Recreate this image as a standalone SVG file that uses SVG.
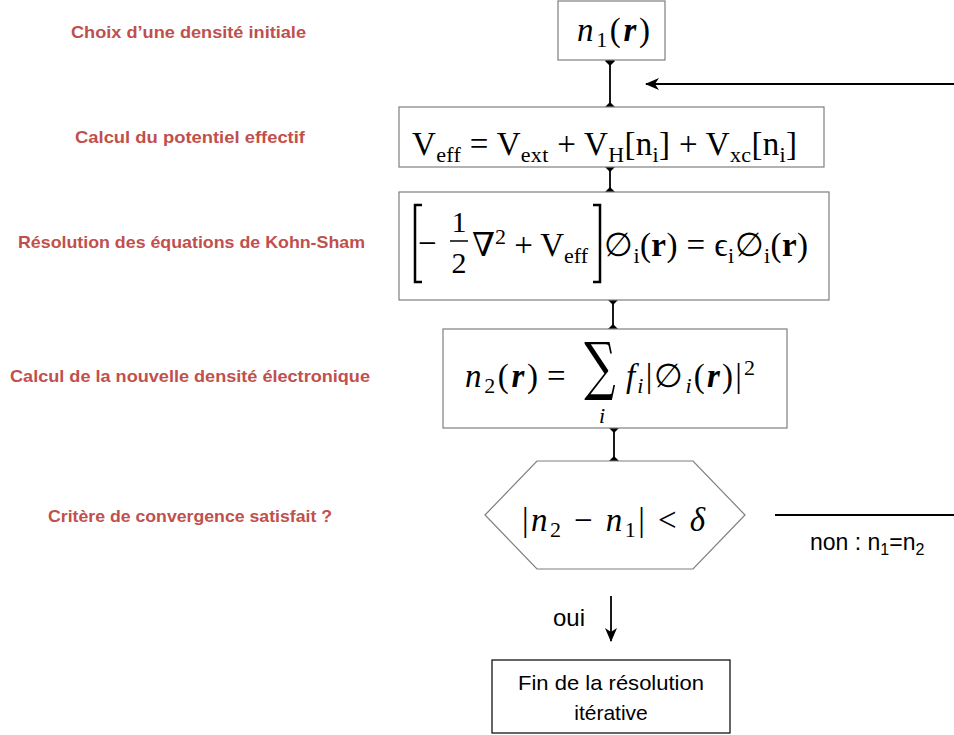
<svg xmlns="http://www.w3.org/2000/svg" width="954" height="735" viewBox="0 0 954 735">
<style>
.lbl{font-family:"Liberation Sans",Arial,sans-serif;font-weight:bold;font-size:17px;fill:#C0504D;text-anchor:middle}
.box{fill:#fff;stroke:#7f7f7f;stroke-width:1.2}
.m{font-family:"Liberation Serif","DejaVu Serif",serif;fill:#000;font-size:33px}
.i{font-style:italic}
.b{font-weight:bold}
.s{font-size:22px}
.t{font-family:"Liberation Sans",Arial,sans-serif;fill:#000}
.c{stroke:#000;stroke-width:1.8;fill:none}
</style>
<defs>
<marker id="dia" markerWidth="10" markerHeight="10" refX="5" refY="5" orient="auto" markerUnits="userSpaceOnUse">
<path d="M5,0 L10,5 L5,10 L0,5 Z" fill="#000"/>
</marker>
<marker id="arr" markerWidth="14" markerHeight="12" refX="13" refY="6" orient="auto" markerUnits="userSpaceOnUse">
<path d="M0,0 L14,6 L0,12 L4,6 Z" fill="#000"/>
</marker>
</defs>

<g id="labels">
<text class="lbl" x="188.5" y="38" textLength="235" lengthAdjust="spacingAndGlyphs">Choix d’une densité initiale</text>
<text class="lbl" x="190" y="143" textLength="230" lengthAdjust="spacingAndGlyphs">Calcul du potentiel effectif</text>
<text class="lbl" x="191.5" y="248" textLength="347" lengthAdjust="spacingAndGlyphs">Résolution des équations de Kohn-Sham</text>
<text class="lbl" x="190" y="382" textLength="360" lengthAdjust="spacingAndGlyphs">Calcul de la nouvelle densité électronique</text>
<text class="lbl" x="190" y="522" textLength="284" lengthAdjust="spacingAndGlyphs">Critère de convergence satisfait ?</text>
</g>

<g id="connectors">
<line class="c" x1="610" y1="61" x2="610" y2="107" marker-start="url(#dia)" marker-end="url(#dia)"/>
<line class="c" x1="610" y1="167" x2="610" y2="192" marker-start="url(#dia)" marker-end="url(#dia)"/>
<line class="c" x1="613" y1="300" x2="613" y2="329" marker-start="url(#dia)" marker-end="url(#dia)"/>
<line class="c" x1="614" y1="428" x2="614" y2="461" marker-start="url(#dia)" marker-end="url(#dia)"/>
<line class="c" x1="954" y1="84" x2="646" y2="84" marker-end="url(#arr)"/>
<line class="c" x1="775" y1="515" x2="954" y2="515"/>
<line class="c" x1="611" y1="596" x2="611" y2="641" marker-end="url(#arr)"/>
<text class="t" x="553" y="626" style="font-size:24px">oui</text>
<text class="t" x="810" y="550" style="font-size:23px">non : n<tspan style="font-size:16px" dy="5">1</tspan><tspan dy="-5">=n</tspan><tspan style="font-size:16px" dy="5">2</tspan></text>
</g>

<g id="n1">
<rect class="box" x="558" y="1" width="107" height="59" stroke="#595959"/>
<text class="m" x="577" y="41" textLength="73" lengthAdjust="spacing"><tspan class="i">n</tspan><tspan class="s" dy="6">1</tspan><tspan dy="-6">(</tspan><tspan class="i b">r</tspan>)</text>
</g>

<g id="veff">
<rect class="box" x="399" y="107" width="425" height="60"/>
<text class="m" x="412" y="155" textLength="385" lengthAdjust="spacing">V<tspan class="s" dy="7">eff</tspan><tspan dy="-7"> = V</tspan><tspan class="s" dy="7">ext</tspan><tspan dy="-7"> + V</tspan><tspan class="s" dy="7">H</tspan><tspan dy="-7">[n</tspan><tspan class="s" dy="7">i</tspan><tspan dy="-7">] + V</tspan><tspan class="s" dy="7">xc</tspan><tspan dy="-7">[n</tspan><tspan class="s" dy="7">i</tspan><tspan dy="-7">]</tspan></text>
</g>

<g id="ks">
<rect class="box" x="399" y="192" width="430" height="108"/>
<path d="M422,205 L415,205 L415,282 L422,282" fill="none" stroke="#000" stroke-width="2.5"/>
<path d="M593,205 L600,205 L600,282 L593,282" fill="none" stroke="#000" stroke-width="2.5"/>
<text class="m" x="418" y="254">−</text>
<text class="m" x="459" y="232" text-anchor="middle" style="font-size:30px">1</text>
<line x1="450" y1="241" x2="468" y2="241" stroke="#000" stroke-width="1.5"/>
<text class="m" x="459" y="273" text-anchor="middle" style="font-size:30px">2</text>
<text class="m" x="472" y="256" textLength="116" lengthAdjust="spacing">∇<tspan class="s" dy="-12">2</tspan><tspan dy="12"> + V</tspan><tspan class="s" dy="7">eff</tspan></text>
<text class="m" x="604" y="256" textLength="204" lengthAdjust="spacing">∅<tspan class="s" dy="7">i</tspan><tspan dy="-7">(</tspan><tspan class="b">r</tspan>) = ϵ<tspan class="s" dy="7">i</tspan><tspan dy="-7">∅</tspan><tspan class="s" dy="7">i</tspan><tspan dy="-7">(</tspan><tspan class="b">r</tspan>)</text>
</g>

<g id="n2">
<rect class="box" x="443" y="329" width="344" height="99"/>
<text class="m" x="465" y="387" textLength="73" lengthAdjust="spacing"><tspan class="i">n</tspan><tspan class="s" dy="6">2</tspan><tspan dy="-6">(</tspan><tspan class="i b">r</tspan>)</text>
<text class="m" x="547" y="387">=</text>
<text transform="translate(600,388) scale(1,1.45)" x="0" y="0" style="font-family:'DejaVu Serif',serif;font-size:44px" text-anchor="middle">∑</text>
<text class="m i" x="602" y="423" style="font-size:22px" text-anchor="middle">i</text>
<text class="m" x="626" y="387" textLength="129" lengthAdjust="spacing"><tspan class="i">f</tspan><tspan class="i s" dy="6">i</tspan><tspan dy="-6">|∅</tspan><tspan class="i s" dy="6">i</tspan><tspan dy="-6">(</tspan><tspan class="i b">r</tspan>)|<tspan class="s" dy="-12">2</tspan></text>
</g>

<g id="conv">
<polygon class="box" points="485,515 537,461 693,461 745,515 693,569 537,569"/>
<text class="m" x="522" y="531" textLength="183" lengthAdjust="spacing">|<tspan class="i">n</tspan><tspan class="s" dy="6">2</tspan><tspan dy="-6"> − </tspan><tspan class="i">n</tspan><tspan class="s" dy="6">1</tspan><tspan dy="-6">| &lt;  </tspan><tspan class="i">δ</tspan></text>
</g>

<g id="fin">
<rect x="492" y="660" width="238" height="73" fill="#fff" stroke="#000" stroke-width="1.2"/>
<text class="t" x="611" y="690" text-anchor="middle" style="font-size:21px" textLength="186" lengthAdjust="spacingAndGlyphs">Fin de la résolution</text>
<text class="t" x="611" y="720" text-anchor="middle" style="font-size:21px">itérative</text>
</g>
</svg>
